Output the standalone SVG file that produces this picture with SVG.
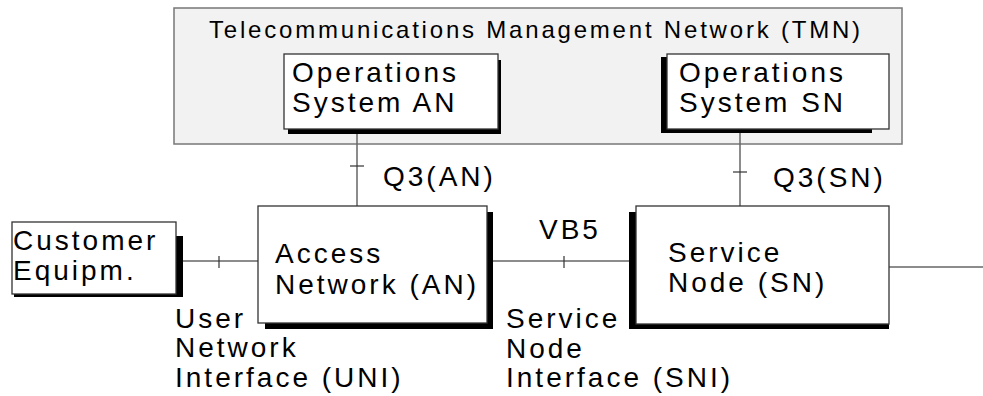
<svg xmlns="http://www.w3.org/2000/svg" width="983" height="396" viewBox="0 0 983 396">
  <style>
    .txt { font-family: "Liberation Sans", Arial, sans-serif; font-size: 28px; letter-spacing: 3px; fill: #000; }
    .title { font-family: "Liberation Sans", Arial, sans-serif; font-size: 24px; letter-spacing: 2.8px; fill: #000; }
    .box { fill: #fff; stroke: #333; stroke-width: 1.3; }
    .shadow { fill: #000; }
    .wire { stroke: #666; stroke-width: 1.5; fill: none; }
    .tick { stroke: #333; stroke-width: 1.2; }
  </style>

  <!-- TMN frame -->
  <g id="tmn">
    <rect x="174" y="8" width="728" height="136" fill="#f2f2f2" stroke="#777" stroke-width="1.5"/>
    <text class="title" x="209" y="38">Telecommunications Management Network (TMN)</text>
  </g>

  <!-- connectors -->
  <g id="connectors">
    <line class="wire" x1="357" y1="134" x2="357" y2="206"/>
    <line class="tick" x1="350" y1="166" x2="364" y2="166"/>
    <line class="wire" x1="740" y1="129" x2="740" y2="206"/>
    <line class="tick" x1="733" y1="172" x2="747" y2="172"/>
    <line class="wire" x1="183" y1="261" x2="258" y2="261"/>
    <line class="tick" x1="219" y1="256" x2="219" y2="268"/>
    <line class="wire" x1="493" y1="261" x2="629" y2="261"/>
    <line class="tick" x1="564" y1="256" x2="564" y2="268"/>
    <line class="wire" x1="889" y1="267" x2="983" y2="267"/>
  </g>

  <g id="os-an">
    <path class="shadow" d="M496,60 H501 V134 H288 V129 H496 Z"/>
    <rect class="box" x="284" y="54" width="214" height="75"/>
    <text class="txt" x="292" y="82">Operations</text>
    <text class="txt" x="292" y="112">System AN</text>
  </g>

  <g id="os-sn">
    <path class="shadow" d="M661,57 H667 V129 H872 V133 H661 Z"/>
    <rect class="box" x="667" y="54" width="222" height="75"/>
    <text class="txt" x="679" y="82">Operations</text>
    <text class="txt" x="679" y="112">System SN</text>
  </g>

  <g id="customer">
    <path class="shadow" d="M176,236 H183 V297 H14 V294 H176 Z"/>
    <rect class="box" x="12" y="222" width="164" height="72"/>
    <text class="txt" x="13" y="250">Customer</text>
    <text class="txt" x="13" y="280">Equipm.</text>
  </g>

  <g id="access-network">
    <path class="shadow" d="M487,212 H493 V329 H265 V323 H487 Z"/>
    <rect class="box" x="258" y="206" width="229" height="117"/>
    <text class="txt" x="275" y="263">Access</text>
    <text class="txt" x="275" y="294">Network (AN)</text>
  </g>

  <g id="service-node">
    <path class="shadow" d="M629,212 H636 V324 H889 V329 H629 Z"/>
    <rect class="box" x="636" y="206" width="253" height="118"/>
    <text class="txt" x="668" y="262">Service</text>
    <text class="txt" x="668" y="292">Node (SN)</text>
  </g>

  <g id="labels">
    <text class="txt" x="383" y="186">Q3(AN)</text>
    <text class="txt" x="773" y="187">Q3(SN)</text>
    <text class="txt" x="539" y="239">VB5</text>
    <text class="txt" x="175" y="328">User</text>
    <text class="txt" x="175" y="357">Network</text>
    <text class="txt" x="175" y="387">Interface (UNI)</text>
    <text class="txt" x="506" y="328">Service</text>
    <text class="txt" x="506" y="358">Node</text>
    <text class="txt" x="506" y="387">Interface (SNI)</text>
  </g>
</svg>
